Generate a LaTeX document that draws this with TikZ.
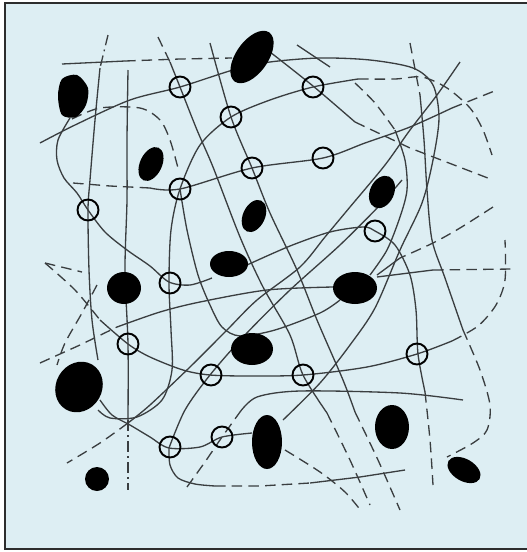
\documentclass[tikz,border=0pt]{standalone}
\usepackage{tikz}
\definecolor{paper}{RGB}{221,238,243}
\definecolor{strandgray}{RGB}{58,62,64}
\definecolor{framegray}{RGB}{45,45,45}

\begin{document}
\begin{tikzpicture}[x=0.02cm, y=-0.02cm,
  strand/.style={draw=strandgray, line width=0.75pt},
  strandgap/.style={strand, dash pattern=on 6pt off 3.5pt},
  stranddot/.style={strand, dash pattern=on 6pt off 2.5pt on 1pt off 2.5pt},
  xlink/.style={circle, draw=black, line width=1.1pt, minimum size=0.42cm, inner sep=0pt},
  filler/.style={fill=black}
]
\useasboundingbox (0,0) rectangle (527,552);
\fill[white] (0,0) rectangle (527,552);
\fill[paper] (5,3) rectangle (527,549);
\draw[framegray, line width=1.1pt] (527,3) -- (5,3) -- (5,549) -- (527,549);

% top chains
\draw[strand] (62,64) -- (125,61);
\draw[strandgap] (125,61) -- (180,59) -- (232,58);
\draw[strand] plot[smooth] coordinates {(40,143) (75,125) (130,100) (180,87) (233,70) (270,62) (320,58) (370,60) (413,68) (433,85) (439,118) (433,160) (422,203) (400,250) (375,308) (350,345) (320,383) (283,420)};
\draw[strand] plot[smooth] coordinates {(358,79) (313,87) (270,100) (231,117) (200,145) (180,189) (171,230) (169,283) (171,330) (172,370) (162,400) (137,417) (110,418) (98,410)};
\draw[strandgap] plot[smooth] coordinates {(358,79) (395,79) (422,77) (447,88) (470,108) (483,130) (492,155)};
\draw[strandgap] (73,183) -- (110,186) -- (150,188);
\draw[strand] plot[smooth] coordinates {(150,188) (180,189) (252,168) (323,158) (365,143) (410,127) (452,108)};
\draw[strandgap] (452,108) -- (497,90);
\draw[strand] plot[smooth] coordinates {(70,118) (58,140) (57,160) (64,178) (77,193) (88,210) (105,232) (127,250) (150,266) (169,282) (190,285) (212,278)};
\draw[strand] plot[smooth] coordinates {(247,265) (290,246) (330,232) (363,227) (375,231) (395,245) (410,275) (416,310) (418,354) (425,392)};
\draw[strandgap] plot[smooth] coordinates {(425,392) (430,440) (433,485)};
\draw[strandgap] plot[smooth] coordinates {(72,119) (100,108) (140,108) (160,120) (170,140) (178,168)};

% falling chains
\draw[strandgap] (158,37) -- (170,62);
\draw[strand] plot[smooth] coordinates {(170,62) (180,87) (197,130) (213,167) (240,237) (263,287) (290,335) (303,375) (327,413)};
\draw[strandgap] plot[smooth] coordinates {(327,413) (350,460) (370,505)};
\draw[strand] plot[smooth] coordinates {(210,43) (231,117) (252,168) (270,213) (297,270) (317,320) (343,380) (355,412)};
\draw[strandgap] plot[smooth] coordinates {(355,412) (378,460) (400,510)};
\draw[strand] plot[smooth] coordinates {(270,52) (313,86) (355,122)};
\draw[strandgap] (355,122) -- (410,148) -- (493,180);
\draw[strand] (297,45) -- (330,67);

% upright chains
\draw[stranddot] (108,35) -- (100,68);
\draw[strand] plot[smooth] coordinates {(100,68) (95,120) (90,180) (88,210) (89,270) (92,320) (98,360)};
\draw[strand] plot[smooth] coordinates {(100,400) (112,415) (130,425) (150,437) (169,448) (200,447) (222,437) (252,433)};
\draw[strand] plot[smooth] coordinates {(128,70) (127,140) (127,200) (125,270) (128,344) (128,420)};
\draw[stranddot] (128,420) -- (128,490);
\draw[strand] plot[smooth] coordinates {(180,189) (187,230) (198,275) (210,305) (222,327) (240,336) (275,330) (320,313) (340,300)};

% middle chains
\draw[strandgap] (40,363) -- (80,345) -- (117,327);
\draw[strand] plot[smooth] coordinates {(117,327) (160,312) (200,302) (267,290) (333,287)};
\draw[strand] (377,277) -- (433,270);
\draw[strandgap] (433,270) -- (513,269);
\draw[strandgap] plot[smooth] coordinates {(45,263) (75,290) (100,320)};
\draw[strand] plot[smooth] coordinates {(100,320) (128,344) (150,357) (183,370) (210,375) (250,376) (303,375) (367,367) (417,354) (452,341)};
\draw[strandgap] plot[smooth] coordinates {(452,341) (478,326) (496,305) (505,280) (505,240)};
\draw[strandgap] (45,263) -- (82,272);
\draw[strandgap] plot[smooth] coordinates {(97,285) (82,313) (65,343) (57,365)};
\draw[strand] plot[smooth] coordinates {(460,62) (437,95) (410,130) (385,165) (350,207) (325,237) (300,267) (257,300) (227,330) (190,367) (150,405) (128,423)};
\draw[strandgap] plot[smooth] coordinates {(128,423) (100,443) (67,463)};
\draw[strand] plot[smooth] coordinates {(169,448) (185,410) (210,375) (245,335) (290,290) (340,245) (380,205) (402,180)};

% lower chains
\draw[strandgap] (187,487) -- (205,462) -- (222,437) -- (240,412);
\draw[strand] plot[smooth] coordinates {(240,412) (257,397) (300,391) (400,393) (463,400)};
\draw[strand] plot[smooth] coordinates {(169,448) (170,465) (178,478) (195,484) (215,486)};
\draw[strandgap] (215,486) -- (260,486) -- (310,483);
\draw[strand] (310,483) -- (360,477) -- (405,470);
\draw[strandgap] plot[smooth] coordinates {(355,83) (375,103) (395,130)};
\draw[strand] plot[smooth] coordinates {(395,130) (405,160) (407,190) (400,217) (387,250) (370,275)};
\draw[strandgap] plot[smooth] coordinates {(493,207) (460,228) (433,243) (400,258)};
\draw[strand] (400,258) -- (377,275);
\draw[strandgap] (410,43) -- (420,95);
\draw[strand] plot[smooth] coordinates {(420,95) (424,140) (427,190) (432,240) (445,278) (463,330)};
\draw[strandgap] plot[smooth] coordinates {(463,330) (480,370) (490,405) (487,430) (473,443) (447,457)};
\draw[strandgap] plot[smooth] coordinates {(285,450) (320,472) (345,492) (362,512)};

% fillers
\fill[filler] plot[smooth cycle] coordinates {(62,79) (77,75) (88,88) (86,105) (76,117) (62,115) (58,96)};
\fill[filler] (252,57) ellipse[x radius=30, y radius=16, rotate=55];
\fill[filler] (151,164) ellipse[x radius=11, y radius=18, rotate=-25];
\fill[filler] (254,216) ellipse[x radius=11, y radius=17, rotate=-25];
\fill[filler] (229,264) ellipse[x radius=19, y radius=13];
\fill[filler] (382,192) ellipse[x radius=12, y radius=17, rotate=-25];
\fill[filler] (124,288) ellipse[x radius=17, y radius=16];
\fill[filler] (355,288) ellipse[x radius=22, y radius=16];
\fill[filler] (252,349) ellipse[x radius=21, y radius=16];
\fill[filler] (79,387) ellipse[x radius=26, y radius=23, rotate=60];
\fill[filler] (267,442) ellipse[x radius=15, y radius=27];
\fill[filler] (392,427) ellipse[x radius=17, y radius=22];
\fill[filler] (97,479) circle[radius=12];
\fill[filler] (464,470) ellipse[x radius=18, y radius=11, rotate=-30];

% crosslinks
\foreach \cx/\cy [count=\i] in {180/87, 231/117, 313/87, 252/168, 323/158, 180/189, 88/210, 375/231, 170/283, 128/344, 211/375, 303/375, 417/354, 170/447, 222/437}
  \node[xlink] (x\i) at (\cx,\cy) {};
\end{tikzpicture}
\end{document}
